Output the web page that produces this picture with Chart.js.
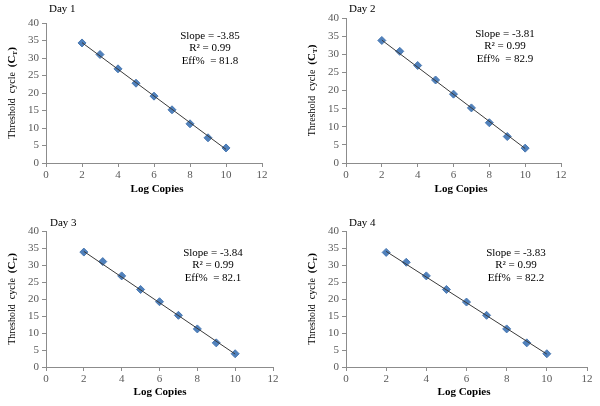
<!DOCTYPE html>
<html><head><meta charset="utf-8">
<script src="https://cdn.jsdelivr.net/npm/chart.js@4.4.1/dist/chart.umd.min.js"></script>
<style>
html,body{margin:0;padding:0;background:#fff}
body{width:600px;height:406px;position:relative;overflow:hidden}
canvas{position:absolute;display:block}
</style></head><body>
<canvas id="c1" width="300" height="200" style="left:0;top:0"></canvas>
<canvas id="c2" width="300" height="200" style="left:300px;top:0"></canvas>
<canvas id="c3" width="300" height="206" style="left:0;top:200px"></canvas>
<canvas id="c4" width="300" height="206" style="left:300px;top:200px"></canvas>
<script>
// ---- data ----
const logCopies = [2, 3, 4, 5, 6, 7, 8, 9, 10];
const day1Ct = [34.3, 31.0, 26.9, 22.8, 19.1, 15.2, 11.2, 7.2, 4.3];
const day2Ct = [33.8, 30.8, 26.9, 22.9, 19.0, 15.2, 11.1, 7.3, 4.1];
const day3Ct = [33.8, 31.0, 26.8, 22.8, 19.2, 15.2, 11.2, 7.1, 3.9];
const day4Ct = [33.7, 30.8, 26.8, 22.8, 19.1, 15.2, 11.2, 7.1, 3.9];
const fitX = [2, 10];
const day1Fit = [34.4, 3.9];
const day2Fit = [33.9, 4.0];
const day3Fit = [34.0, 3.8];
const day4Fit = [34.0, 3.8];
const dayLabels = ['Day 1', 'Day 2', 'Day 3', 'Day 4'];
const slopes = ['-3.85', '-3.81', '-3.84', '-3.83'];
const rSquared = ['0.99', '0.99', '0.99', '0.99'];
const effPct = ['81.8', '82.9', '82.1', '82.2'];
const xTickMin = 0, xTickMax = 12, xTickStep = 2;
const yTickMin = 0, yTickMax = 40, yTickStep = 5;
const xTitle = 'Log Copies';
const yTitleParts = ['Threshold  cycle  ', '(C', 'T', ')'];

const allCt = [day1Ct, day2Ct, day3Ct, day4Ct];
const allFit = [day1Fit, day2Fit, day3Fit, day4Fit];

// ---- layout (positions only) ----
const panels = [
  {id:'c1', W:300, H:200, area:{l:46, r:262, t:23, b:163}, day:{x:49, y:9}, ann:{x:210, y:36}, xt:{x:157, y:189}, yt:{x:12}},
  {id:'c2', W:300, H:200, area:{l:46, r:261, t:18, b:163}, day:{x:49, y:9}, ann:{x:205, y:34}, xt:{x:161, y:189}, yt:{x:12}},
  {id:'c3', W:300, H:206, area:{l:46, r:273, t:31, b:167}, day:{x:50, y:23}, ann:{x:213, y:53}, xt:{x:160, y:192}, yt:{x:12}},
  {id:'c4', W:300, H:206, area:{l:46, r:287, t:31, b:167}, day:{x:49, y:23}, ann:{x:216, y:53}, xt:{x:164, y:192}, yt:{x:12}}
];

const SERIF = '"Liberation Serif", "Times New Roman", serif';

function makeChart(i) {
  const p = panels[i];
  const textPlugin = {
    id: 'texts' + i,
    afterDraw(chart) {
      const ctx = chart.ctx;
      const ca = chart.chartArea;
      ctx.save();
      ctx.fillStyle = '#000';
      // Day label
      ctx.font = '11px ' + SERIF;
      ctx.textAlign = 'left';
      ctx.textBaseline = 'middle';
      ctx.fillText(dayLabels[i], p.day.x, p.day.y);
      // annotation
      ctx.font = '11px ' + SERIF;
      ctx.textAlign = 'center';
      ctx.fillText('Slope = ' + slopes[i], p.ann.x, p.ann.y);
      ctx.fillText('R\u00B2 = ' + rSquared[i], p.ann.x, p.ann.y + 12.5);
      ctx.fillText('Eff%  = ' + effPct[i], p.ann.x, p.ann.y + 25);
      // x title
      ctx.font = 'bold 11px ' + SERIF;
      ctx.fillText(xTitle, p.xt.x, p.xt.y);
      // y title (rotated, with subscript)
      const cy = (ca.top + ca.bottom) / 2;
      ctx.translate(p.yt.x, cy);
      ctx.rotate(-Math.PI / 2);
      ctx.textAlign = 'left';
      const fonts = ['10px ' + SERIF, 'bold 11px ' + SERIF, 'bold 7px ' + SERIF, 'bold 11px ' + SERIF];
      const dy = [0, 0, 3, 0];
      let total = 0;
      const widths = yTitleParts.map((s, k) => { ctx.font = fonts[k]; const w = ctx.measureText(s).width; total += w; return w; });
      let x = -total / 2;
      yTitleParts.forEach((s, k) => { ctx.font = fonts[k]; ctx.fillText(s, x, dy[k]); x += widths[k]; });
      ctx.restore();
    }
  };
  return new Chart(document.getElementById(p.id), {
    type: 'scatter',
    data: {
      datasets: [
        {
          type: 'line',
          data: fitX.map((x, k) => ({x, y: allFit[i][k]})),
          borderColor: '#3a3a3a',
          borderWidth: 1,
          pointRadius: 0,
          fill: false
        },
        {
          data: logCopies.map((x, k) => ({x, y: allCt[i][k]})),
          pointStyle: 'rectRot',
          pointRadius: 4,
          backgroundColor: '#4f81bd',
          borderColor: '#4a78b0',
          borderWidth: 1
        }
      ]
    },
    options: {
      responsive: false,
      animation: false,
      devicePixelRatio: 1,
      layout: {padding: {left: 0, right: p.W - p.area.r, top: p.area.t, bottom: 0}},
      plugins: {legend: {display: false}, tooltip: {enabled: false}, title: {display: false}},
      scales: {
        x: {
          type: 'linear', min: xTickMin, max: xTickMax,
          ticks: {stepSize: xTickStep, color: '#595959', font: {family: SERIF, size: 11}, padding: 2, maxRotation: 0},
          grid: {drawOnChartArea: false, drawTicks: true, tickLength: 4, color: '#8c8c8c'},
          border: {color: '#8c8c8c'},
          afterFit(s) { s.height = p.H - p.area.b; }
        },
        y: {
          type: 'linear', min: yTickMin, max: yTickMax,
          ticks: {stepSize: yTickStep, color: '#595959', font: {family: SERIF, size: 11}, padding: 3},
          grid: {drawOnChartArea: false, drawTicks: true, tickLength: 4, color: '#8c8c8c'},
          border: {color: '#8c8c8c'},
          afterFit(s) { s.width = p.area.l; }
        }
      }
    },
    plugins: [textPlugin]
  });
}
for (let i = 0; i < 4; i++) makeChart(i);
</script>
</body></html>
